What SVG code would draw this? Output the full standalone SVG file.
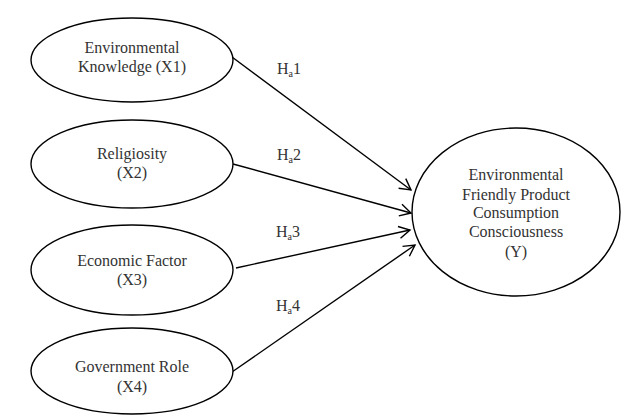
<svg xmlns="http://www.w3.org/2000/svg" width="624" height="416" viewBox="0 0 624 416">
<defs>
<style>
.node ellipse{fill:#fff;stroke:#000;stroke-width:1.4}
text{font-family:"Liberation Serif","Times New Roman",serif;font-size:16px;fill:#333;text-anchor:middle}
.lbl{text-anchor:start}
.edge{stroke:#000;stroke-width:1.4;fill:none;marker-end:url(#arr)}
</style>
<marker id="arr" markerUnits="userSpaceOnUse" viewBox="-12 -7 14 14" refX="0" refY="0" markerWidth="14" markerHeight="14" orient="auto">
<path d="M-11,-6 L0,0 L-11,6" fill="none" stroke="#000" stroke-width="1.4"/>
</marker>
</defs>
<rect width="624" height="416" fill="#fff"/>
<g id="connectors">
<path class="edge" d="M232,57 L411,190"/>
<path class="edge" d="M233,164 L411,213"/>
<path class="edge" d="M236,268 L410,230"/>
<path class="edge" d="M232,372 L415,245"/>
</g>
<g id="labels">
<text class="lbl" x="277" y="74">H<tspan font-size="10" dy="3">a</tspan><tspan dy="-3">1</tspan></text>
<text class="lbl" x="277" y="160">H<tspan font-size="10" dy="3">a</tspan><tspan dy="-3">2</tspan></text>
<text class="lbl" x="276" y="237">H<tspan font-size="10" dy="3">a</tspan><tspan dy="-3">3</tspan></text>
<text class="lbl" x="276" y="311">H<tspan font-size="10" dy="3">a</tspan><tspan dy="-3">4</tspan></text>
</g>
<g id="x1" class="node">
<ellipse cx="132" cy="60" rx="101" ry="42"/>
<text x="132" y="53">Environmental</text>
<text x="132" y="72">Knowledge (X1)</text>
</g>
<g id="x2" class="node">
<ellipse cx="132" cy="164" rx="101" ry="44"/>
<text x="132" y="159">Religiosity</text>
<text x="132" y="178">(X2)</text>
</g>
<g id="x3" class="node">
<ellipse cx="132" cy="270" rx="101" ry="45"/>
<text x="132" y="266">Economic Factor</text>
<text x="132" y="285">(X3)</text>
</g>
<g id="x4" class="node">
<ellipse cx="132" cy="371" rx="101" ry="43"/>
<text x="132" y="372">Government Role</text>
<text x="132" y="392">(X4)</text>
</g>
<g id="y" class="node">
<ellipse cx="516" cy="212" rx="104" ry="84"/>
<text x="516" y="180">Environmental</text>
<text x="516" y="200">Friendly Product</text>
<text x="516" y="218">Consumption</text>
<text x="516" y="237">Consciousness</text>
<text x="516" y="257">(Y)</text>
</g>
</svg>
